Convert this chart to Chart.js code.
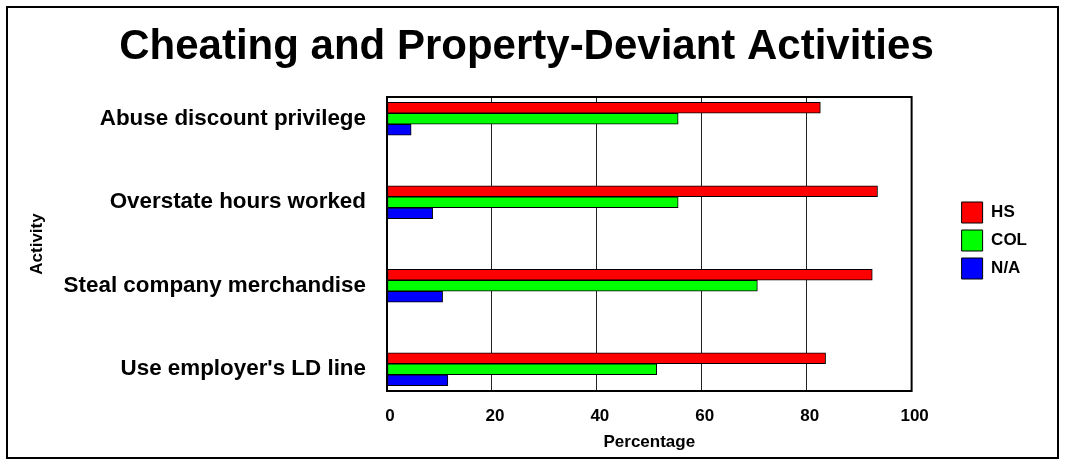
<!DOCTYPE html>
<html>
<head>
<meta charset="utf-8">
<script src="https://cdn.jsdelivr.net/npm/chart.js@4.4.1/dist/chart.umd.min.js"></script>
<style>
  html, body { margin: 0; padding: 0; background: #fff; }
  #wrap { width: 1065px; height: 466px; position: relative; }
</style>
</head>
<body>
<div id="wrap"><canvas id="c" width="1065" height="466"></canvas></div>
<script>
const categories = ["Abuse discount privilege", "Overstate hours worked", "Steal company merchandise", "Use employer's LD line"];
const seriesNames = ["HS", "COL", "N/A"];
const hsValues = [82.6, 93.5, 92.5, 83.6];
const colValues = [55.5, 55.5, 70.6, 51.4];
const naValues = [4.6, 8.7, 10.6, 11.6];
const xTicks = [0, 20, 40, 60, 80, 100];
const seriesColors = ["#ff0000", "#00ff00", "#0000ff"];

Chart.defaults.font.family = "'Liberation Sans', Arial, sans-serif";
Chart.defaults.color = "#000";

const allValues = [hsValues, colValues, naValues];
const datasets = seriesNames.map((name, s) => ({
  label: name,
  data: allValues[s].map((v, i) => ({ x: v, y: i })),
  backgroundColor: seriesColors[s],
  borderColor: "#000",
  borderWidth: 1,
  borderSkipped: false,
  barThickness: 11
}));

const frames = {
  id: "frames",
  afterDraw(chart) {
    const ctx = chart.ctx, a = chart.chartArea;
    ctx.save();
    ctx.strokeStyle = "#000";
    ctx.lineWidth = 2;
    ctx.strokeRect(a.left, a.top, a.right - a.left, a.bottom - a.top);
    ctx.strokeRect(7, 7, 1051, 451);
    ctx.restore();
  }
};

new Chart(document.getElementById("c"), {
  type: "bar",
  data: { datasets },
  plugins: [frames],
  options: {
    responsive: false,
    animation: false,
    indexAxis: "y",
    layout: { padding: { left: 16, right: 28, top: 7, bottom: 0 } },
    plugins: {
      title: {
        display: true,
        text: "Cheating and Property-Deviant Activities",
        font: { size: 42, weight: "bold" },
        color: "#000",
        padding: { top: 15, bottom: 24.6 }
      },
      legend: {
        position: "right",
        title: { display: true, text: " ", font: { size: 5 }, padding: { top: 0, bottom: 2 } },
        labels: {
          boxWidth: 21,
          boxHeight: 21,
          padding: 7,
          font: { size: 17, weight: "bold" },
          color: "#000"
        }
      },
      tooltip: { enabled: false }
    },
    scales: {
      x: {
        type: "linear",
        position: "bottom",
        min: 0,
        max: 100,
        afterBuildTicks(s) { s.ticks = xTicks.map(v => ({ value: v })); },
        afterFit(s) { s.height = 75; },
        grid: { color: "#222", lineWidth: 1, drawTicks: false },
        border: { display: false },
        ticks: { padding: 15, labelOffset: 3, font: { size: 17, weight: "bold" }, color: "#000" },
        title: {
          display: true,
          text: "Percentage",
          font: { size: 17, weight: "bold" },
          color: "#000",
          padding: { top: 0, bottom: 13 }
        }
      },
      y: {
        type: "linear",
        position: "left",
        reverse: true,
        offset: false,
        min: -0.26,
        max: 3.26,
        afterBuildTicks(s) { s.ticks = categories.map((c, i) => ({ value: i })); },
        afterFit(s) { s.width = 387 - 16; },
        grid: { display: false, drawTicks: false, offset: false },
        border: { display: false },
        ticks: {
          padding: 21,
          font: { size: 22.4, weight: "bold" },
          color: "#000",
          callback: (v) => categories[v] !== undefined ? categories[v] : ""
        },
        title: {
          display: true,
          text: "Activity",
          font: { size: 17, weight: "bold" },
          color: "#000",
          padding: { top: 11, bottom: 11 }
        }
      },
      gap: {
        type: "linear",
        position: "right",
        display: true,
        afterFit(s) { s.width = 43; },
        grid: { display: false, drawTicks: false },
        border: { display: false },
        ticks: { display: false }
      }
    }
  }
});
</script>
</body>
</html>
